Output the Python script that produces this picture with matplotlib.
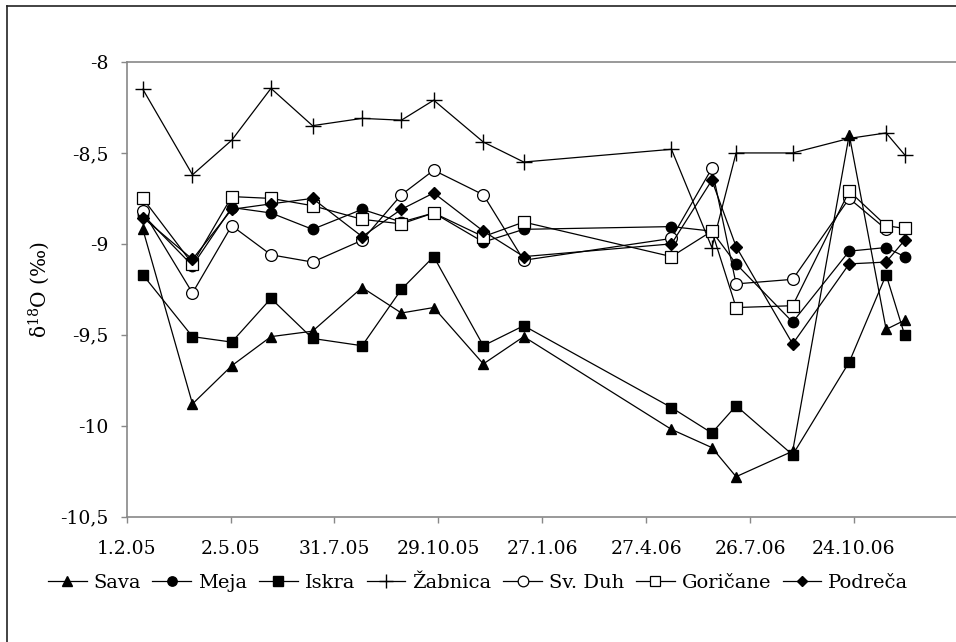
import matplotlib
matplotlib.use("Agg")
import matplotlib.pyplot as plt
import matplotlib.dates as mdates
from matplotlib.lines import Line2D
import datetime as dt

plt.rcParams['font.family'] = ['DejaVu Serif']
plt.rcParams['mathtext.fontset'] = 'dejavuserif'

dates = ['2005-02-15', '2005-03-30', '2005-05-03', '2005-06-06', '2005-07-12',
         '2005-08-24', '2005-09-27', '2005-10-25', '2005-12-07', '2006-01-11',
         '2006-05-19', '2006-06-23', '2006-07-14', '2006-09-01', '2006-10-20',
         '2006-11-21', '2006-12-07']

sava = [-8.92, -9.88, -9.67, -9.51, -9.48, -9.24, -9.38, -9.35, -9.66, -9.51,
        -10.02, -10.12, -10.28, -10.14, -8.40, -9.47, -9.42]
meja = [-8.84, -9.12, -8.80, -8.83, -8.92, -8.81, -8.88, -8.83, -8.99, -8.92,
        -8.905, -8.93, -9.11, -9.43, -9.04, -9.02, -9.07]
iskra = [-9.17, -9.51, -9.54, -9.30, -9.52, -9.56, -9.25, -9.07, -9.56, -9.45,
         -9.90, -10.04, -9.89, -10.16, -9.65, -9.17, -9.50]
zabnica = [-8.15, -8.62, -8.43, -8.145, -8.35, -8.31, -8.32, -8.21, -8.44, -8.55,
           -8.48, -9.02, -8.50, -8.50, -8.42, -8.39, -8.51]
svduh = [-8.82, -9.27, -8.90, -9.06, -9.10, -8.98, -8.73, -8.595, -8.73, -9.09,
         -8.97, -8.585, -9.22, -9.195, -8.75, -8.92]
goricane = [-8.75, -9.11, -8.74, -8.75, -8.79, -8.865, -8.89, -8.83, -8.96, -8.88,
            -9.07, -8.93, -9.35, -9.34, -8.71, -8.90, -8.915]
podreca = [-8.855, -9.085, -8.81, -8.78, -8.75, -8.96, -8.81, -8.72, -8.93, -9.07,
           -9.00, -8.65, -9.015, -9.55, -9.11, -9.10, -8.98]

names = ['Sava', 'Meja', 'Iskra', 'Žabnica', 'Sv. Duh', 'Goričane', 'Podreča']

tick_dates = ['2005-02-01', '2005-05-02', '2005-07-31', '2005-10-29',
              '2006-01-27', '2006-04-27', '2006-07-26', '2006-10-24']
tick_labels = ['1.2.05', '2.5.05', '31.7.05', '29.10.05', '27.1.06',
               '27.4.06', '26.7.06', '24.10.06']
y_ticks = [-8, -8.5, -9, -9.5, -10, -10.5]
y_labels = ['-8', '-8,5', '-9', '-9,5', '-10', '-10,5']


def to_num(s):
    return mdates.date2num(dt.datetime.strptime(s, '%Y-%m-%d'))


xd = [to_num(s) for s in dates]
series = [sava, meja, iskra, zabnica, svduh, goricane, podreca]
styles = [
    dict(marker='^', mfc='black', mec='black', ms=7.5),
    dict(marker='o', mfc='black', mec='black', ms=7.5),
    dict(marker='s', mfc='black', mec='black', ms=7.5),
    dict(marker='+', mfc='black', mec='black', ms=11, mew=1.0),
    dict(marker='o', mfc='white', mec='black', ms=8.5, mew=0.9),
    dict(marker='s', mfc='white', mec='black', ms=8.5, mew=0.9),
    dict(marker='D', mfc='black', mec='black', ms=6),
]

fig = plt.figure(figsize=(9.56, 6.42), dpi=100)
W, H = 956, 642
ax = fig.add_axes([126.7 / W, 125.3 / H, 831 / W, 454.7 / H])

handles = []
for name, vals, st in zip(names, series, styles):
    ln, = ax.plot(xd[:len(vals)], vals, color='black', lw=0.9, label=name,
                  **st)
    handles.append(ln)

x0 = to_num('2005-02-01')
ax.set_xlim(x0, x0 + 720)
ax.set_ylim(-10.5, -8)
ax.set_xticks([to_num(s) for s in tick_dates])
ax.set_xticklabels(tick_labels)
ax.set_yticks(y_ticks)
ax.set_yticklabels(y_labels)
ax.tick_params(axis='both', labelsize=13.5, color='#888888', length=4,
               width=1, direction='out')
ax.tick_params(axis='x', pad=13)
ax.tick_params(axis='y', pad=9)
for side in ['left', 'bottom', 'top']:
    ax.spines[side].set_color('#888888')
    ax.spines[side].set_linewidth(1.2)
ax.spines['right'].set_visible(False)

ax.set_ylabel('δ$^{18}$O (‰)', fontsize=14.5, labelpad=6)

leg = fig.legend(handles=handles, loc='center', bbox_to_anchor=(478 / W, 1 - 583 / H),
                 ncol=7, frameon=False, fontsize=14, handlelength=2.0,
                 handletextpad=0.35, columnspacing=0.6, borderaxespad=0)
for h in leg.legend_handles:
    h.set_markersize(h.get_markersize() * 0.9)

fig.add_artist(Line2D([7 / W, 1.0], [1 - 6 / H, 1 - 6 / H], transform=fig.transFigure,
                      color='#222222', lw=1.2))
fig.add_artist(Line2D([7 / W, 7 / W], [0, 1 - 6 / H], transform=fig.transFigure,
                      color='#222222', lw=1.2))

fig.savefig('out.png', dpi=100, facecolor='white')
